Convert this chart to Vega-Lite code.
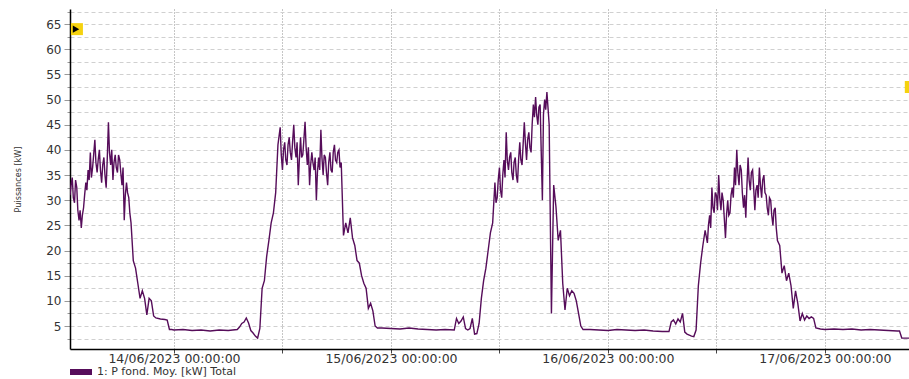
{
"$schema": "https://vega.github.io/schema/vega-lite/v6.json",
"width": 839, "height": 340,
"autosize": {"type": "none"},
"padding": {"left": 70, "top": 9, "right": 0, "bottom": 30},
"background": "white",
"config": {"view": {"stroke": null}, "font": "DejaVu Sans"},
"datasets": {
"series": [
{"time":"2023-06-13T12:30","power":31.0},{"time":"2023-06-13T12:37","power":33.0},{"time":"2023-06-13T12:45","power":34.5},{"time":"2023-06-13T12:52","power":30.5},{"time":"2023-06-13T13:00","power":29.5},{"time":"2023-06-13T13:07","power":34.0},{"time":"2023-06-13T13:15","power":32.5},{"time":"2023-06-13T13:22","power":28.0},{"time":"2023-06-13T13:30","power":26.0},{"time":"2023-06-13T13:37","power":28.0},{"time":"2023-06-13T13:45","power":24.5},{"time":"2023-06-13T13:52","power":27.0},{"time":"2023-06-13T14:00","power":28.5},{"time":"2023-06-13T14:07","power":31.0},{"time":"2023-06-13T14:15","power":33.5},{"time":"2023-06-13T14:22","power":32.0},{"time":"2023-06-13T14:30","power":36.0},{"time":"2023-06-13T14:37","power":34.0},{"time":"2023-06-13T14:45","power":39.5},{"time":"2023-06-13T14:52","power":34.5},{"time":"2023-06-13T15:00","power":36.5},{"time":"2023-06-13T15:07","power":39.0},{"time":"2023-06-13T15:15","power":42.0},{"time":"2023-06-13T15:22","power":37.5},{"time":"2023-06-13T15:30","power":35.5},{"time":"2023-06-13T15:37","power":38.0},{"time":"2023-06-13T15:45","power":40.0},{"time":"2023-06-13T15:52","power":36.0},{"time":"2023-06-13T16:00","power":33.5},{"time":"2023-06-13T16:07","power":37.0},{"time":"2023-06-13T16:15","power":38.5},{"time":"2023-06-13T16:22","power":35.0},{"time":"2023-06-13T16:30","power":32.5},{"time":"2023-06-13T16:37","power":38.0},{"time":"2023-06-13T16:45","power":45.5},{"time":"2023-06-13T16:52","power":39.5},{"time":"2023-06-13T17:00","power":37.0},{"time":"2023-06-13T17:07","power":40.0},{"time":"2023-06-13T17:15","power":34.0},{"time":"2023-06-13T17:22","power":37.5},{"time":"2023-06-13T17:30","power":39.0},{"time":"2023-06-13T17:37","power":36.5},{"time":"2023-06-13T17:45","power":35.5},{"time":"2023-06-13T17:52","power":39.0},{"time":"2023-06-13T18:00","power":38.0},{"time":"2023-06-13T18:07","power":35.5},{"time":"2023-06-13T18:15","power":33.0},{"time":"2023-06-13T18:22","power":36.5},{"time":"2023-06-13T18:30","power":26.0},{"time":"2023-06-13T18:37","power":31.0},{"time":"2023-06-13T18:45","power":33.5},{"time":"2023-06-13T18:52","power":31.5},{"time":"2023-06-13T19:00","power":30.5},{"time":"2023-06-13T19:07","power":27.5},{"time":"2023-06-13T19:15","power":25.5},{"time":"2023-06-13T19:30","power":18.0},{"time":"2023-06-13T19:45","power":16.5},{"time":"2023-06-13T20:00","power":13.5},{"time":"2023-06-13T20:15","power":10.5},{"time":"2023-06-13T20:30","power":12.0},{"time":"2023-06-13T20:45","power":10.5},{"time":"2023-06-13T21:00","power":7.2},{"time":"2023-06-13T21:15","power":10.5},{"time":"2023-06-13T21:30","power":10.0},{"time":"2023-06-13T21:45","power":7.0},{"time":"2023-06-13T22:00","power":6.6},{"time":"2023-06-13T22:30","power":6.4},{"time":"2023-06-13T23:00","power":6.3},{"time":"2023-06-13T23:15","power":6.2},{"time":"2023-06-13T23:30","power":4.3},{"time":"2023-06-13T23:45","power":4.3},
{"time":"2023-06-14T00:00","power":4.2},{"time":"2023-06-14T01:00","power":4.3},{"time":"2023-06-14T02:00","power":4.1},{"time":"2023-06-14T03:00","power":4.2},{"time":"2023-06-14T04:00","power":4.0},{"time":"2023-06-14T05:00","power":4.2},{"time":"2023-06-14T06:00","power":4.1},{"time":"2023-06-14T06:30","power":4.2},{"time":"2023-06-14T07:00","power":4.3},{"time":"2023-06-14T07:15","power":4.8},{"time":"2023-06-14T07:30","power":5.5},{"time":"2023-06-14T07:45","power":5.8},{"time":"2023-06-14T08:00","power":6.6},{"time":"2023-06-14T08:15","power":5.6},{"time":"2023-06-14T08:30","power":4.1},{"time":"2023-06-14T08:45","power":3.6},{"time":"2023-06-14T09:00","power":3.0},{"time":"2023-06-14T09:15","power":2.6},{"time":"2023-06-14T09:30","power":4.5},{"time":"2023-06-14T09:45","power":12.5},{"time":"2023-06-14T10:00","power":14.0},{"time":"2023-06-14T10:15","power":18.8},{"time":"2023-06-14T10:30","power":22.0},{"time":"2023-06-14T10:45","power":25.5},{"time":"2023-06-14T11:00","power":27.5},{"time":"2023-06-14T11:15","power":31.5},{"time":"2023-06-14T11:30","power":41.0},{"time":"2023-06-14T11:45","power":44.5},{"time":"2023-06-14T11:52","power":39.0},{"time":"2023-06-14T12:00","power":36.0},{"time":"2023-06-14T12:07","power":40.0},{"time":"2023-06-14T12:15","power":41.5},{"time":"2023-06-14T12:22","power":38.0},{"time":"2023-06-14T12:30","power":37.0},{"time":"2023-06-14T12:37","power":41.0},{"time":"2023-06-14T12:45","power":42.5},{"time":"2023-06-14T12:52","power":39.5},{"time":"2023-06-14T13:00","power":38.0},{"time":"2023-06-14T13:07","power":41.5},{"time":"2023-06-14T13:15","power":45.0},{"time":"2023-06-14T13:22","power":40.5},{"time":"2023-06-14T13:30","power":38.5},{"time":"2023-06-14T13:37","power":41.5},{"time":"2023-06-14T13:45","power":33.0},{"time":"2023-06-14T13:52","power":38.0},{"time":"2023-06-14T14:00","power":42.5},{"time":"2023-06-14T14:07","power":38.5},{"time":"2023-06-14T14:15","power":39.0},{"time":"2023-06-14T14:22","power":42.0},{"time":"2023-06-14T14:30","power":45.6},{"time":"2023-06-14T14:37","power":40.5},{"time":"2023-06-14T14:45","power":37.0},{"time":"2023-06-14T14:52","power":40.5},{"time":"2023-06-14T15:00","power":33.0},{"time":"2023-06-14T15:07","power":37.0},{"time":"2023-06-14T15:15","power":39.5},{"time":"2023-06-14T15:22","power":37.5},{"time":"2023-06-14T15:30","power":36.0},{"time":"2023-06-14T15:37","power":38.5},{"time":"2023-06-14T15:45","power":30.0},{"time":"2023-06-14T15:52","power":35.5},{"time":"2023-06-14T16:00","power":38.5},{"time":"2023-06-14T16:07","power":36.0},{"time":"2023-06-14T16:15","power":44.0},{"time":"2023-06-14T16:22","power":38.5},{"time":"2023-06-14T16:30","power":35.0},{"time":"2023-06-14T16:37","power":39.0},{"time":"2023-06-14T16:45","power":38.5},{"time":"2023-06-14T16:52","power":35.5},{"time":"2023-06-14T17:00","power":33.0},{"time":"2023-06-14T17:07","power":37.5},{"time":"2023-06-14T17:15","power":39.5},{"time":"2023-06-14T17:22","power":36.0},{"time":"2023-06-14T17:30","power":35.5},{"time":"2023-06-14T17:37","power":39.5},{"time":"2023-06-14T17:45","power":41.0},{"time":"2023-06-14T17:52","power":38.0},{"time":"2023-06-14T18:00","power":37.5},{"time":"2023-06-14T18:07","power":39.5},{"time":"2023-06-14T18:15","power":40.0},{"time":"2023-06-14T18:22","power":36.5},{"time":"2023-06-14T18:30","power":37.5},{"time":"2023-06-14T18:45","power":23.0},{"time":"2023-06-14T19:00","power":25.5},{"time":"2023-06-14T19:15","power":23.5},{"time":"2023-06-14T19:30","power":26.5},{"time":"2023-06-14T19:45","power":22.5},{"time":"2023-06-14T20:00","power":21.0},{"time":"2023-06-14T20:15","power":18.0},{"time":"2023-06-14T20:30","power":17.5},{"time":"2023-06-14T20:45","power":15.0},{"time":"2023-06-14T21:00","power":13.5},{"time":"2023-06-14T21:15","power":12.5},{"time":"2023-06-14T21:30","power":8.5},{"time":"2023-06-14T21:45","power":9.5},{"time":"2023-06-14T22:00","power":8.0},{"time":"2023-06-14T22:15","power":5.0},{"time":"2023-06-14T22:30","power":4.6},{"time":"2023-06-14T23:00","power":4.6},
{"time":"2023-06-15T00:00","power":4.5},{"time":"2023-06-15T01:00","power":4.4},{"time":"2023-06-15T02:00","power":4.6},{"time":"2023-06-15T03:00","power":4.4},{"time":"2023-06-15T04:00","power":4.3},{"time":"2023-06-15T05:00","power":4.2},{"time":"2023-06-15T06:00","power":4.3},{"time":"2023-06-15T07:00","power":4.2},{"time":"2023-06-15T07:15","power":6.5},{"time":"2023-06-15T07:30","power":5.5},{"time":"2023-06-15T07:45","power":6.0},{"time":"2023-06-15T08:00","power":6.8},{"time":"2023-06-15T08:15","power":4.5},{"time":"2023-06-15T08:30","power":4.2},{"time":"2023-06-15T08:45","power":4.5},{"time":"2023-06-15T09:00","power":6.5},{"time":"2023-06-15T09:15","power":3.4},{"time":"2023-06-15T09:30","power":3.5},{"time":"2023-06-15T09:45","power":5.5},{"time":"2023-06-15T10:00","power":10.5},{"time":"2023-06-15T10:15","power":14.0},{"time":"2023-06-15T10:30","power":16.5},{"time":"2023-06-15T10:45","power":20.0},{"time":"2023-06-15T11:00","power":23.5},{"time":"2023-06-15T11:15","power":25.5},{"time":"2023-06-15T11:30","power":33.5},{"time":"2023-06-15T11:37","power":29.5},{"time":"2023-06-15T11:45","power":30.5},{"time":"2023-06-15T11:52","power":34.0},{"time":"2023-06-15T12:00","power":36.5},{"time":"2023-06-15T12:07","power":32.0},{"time":"2023-06-15T12:15","power":30.5},{"time":"2023-06-15T12:22","power":35.0},{"time":"2023-06-15T12:30","power":38.0},{"time":"2023-06-15T12:37","power":34.5},{"time":"2023-06-15T12:45","power":43.5},{"time":"2023-06-15T12:52","power":38.0},{"time":"2023-06-15T13:00","power":36.0},{"time":"2023-06-15T13:07","power":38.5},{"time":"2023-06-15T13:15","power":39.5},{"time":"2023-06-15T13:22","power":35.5},{"time":"2023-06-15T13:30","power":34.0},{"time":"2023-06-15T13:37","power":37.5},{"time":"2023-06-15T13:45","power":38.5},{"time":"2023-06-15T13:52","power":35.0},{"time":"2023-06-15T14:00","power":33.5},{"time":"2023-06-15T14:07","power":38.0},{"time":"2023-06-15T14:15","power":41.5},{"time":"2023-06-15T14:22","power":38.0},{"time":"2023-06-15T14:30","power":37.0},{"time":"2023-06-15T14:37","power":41.0},{"time":"2023-06-15T14:45","power":45.5},{"time":"2023-06-15T14:52","power":41.5},{"time":"2023-06-15T15:00","power":38.0},{"time":"2023-06-15T15:07","power":42.0},{"time":"2023-06-15T15:15","power":43.5},{"time":"2023-06-15T15:22","power":40.5},{"time":"2023-06-15T15:30","power":39.5},{"time":"2023-06-15T15:37","power":45.0},{"time":"2023-06-15T15:45","power":49.0},{"time":"2023-06-15T15:52","power":46.5},{"time":"2023-06-15T16:00","power":50.5},{"time":"2023-06-15T16:07","power":47.0},{"time":"2023-06-15T16:15","power":45.0},{"time":"2023-06-15T16:22","power":48.5},{"time":"2023-06-15T16:30","power":49.0},{"time":"2023-06-15T16:37","power":40.0},{"time":"2023-06-15T16:45","power":30.0},{"time":"2023-06-15T16:52","power":47.0},{"time":"2023-06-15T17:00","power":50.0},{"time":"2023-06-15T17:07","power":48.0},{"time":"2023-06-15T17:15","power":51.5},{"time":"2023-06-15T17:22","power":48.5},{"time":"2023-06-15T17:30","power":45.0},{"time":"2023-06-15T17:45","power":7.5},{"time":"2023-06-15T18:00","power":33.0},{"time":"2023-06-15T18:15","power":28.7},{"time":"2023-06-15T18:30","power":22.0},{"time":"2023-06-15T18:45","power":24.0},{"time":"2023-06-15T19:00","power":13.5},{"time":"2023-06-15T19:15","power":8.2},{"time":"2023-06-15T19:30","power":12.5},{"time":"2023-06-15T19:45","power":11.0},{"time":"2023-06-15T20:00","power":12.0},{"time":"2023-06-15T20:15","power":11.5},{"time":"2023-06-15T20:30","power":10.0},{"time":"2023-06-15T20:45","power":7.5},{"time":"2023-06-15T21:00","power":5.0},{"time":"2023-06-15T21:15","power":4.3},{"time":"2023-06-15T22:00","power":4.3},{"time":"2023-06-15T23:00","power":4.2},
{"time":"2023-06-16T00:00","power":4.1},{"time":"2023-06-16T01:00","power":4.3},{"time":"2023-06-16T02:00","power":4.2},{"time":"2023-06-16T03:00","power":4.1},{"time":"2023-06-16T04:00","power":4.2},{"time":"2023-06-16T05:00","power":4.0},{"time":"2023-06-16T06:00","power":3.9},{"time":"2023-06-16T06:30","power":3.9},{"time":"2023-06-16T06:45","power":3.9},{"time":"2023-06-16T07:00","power":5.8},{"time":"2023-06-16T07:15","power":6.2},{"time":"2023-06-16T07:30","power":5.4},{"time":"2023-06-16T07:45","power":6.4},{"time":"2023-06-16T08:00","power":5.8},{"time":"2023-06-16T08:15","power":7.5},{"time":"2023-06-16T08:30","power":3.8},{"time":"2023-06-16T08:45","power":3.4},{"time":"2023-06-16T09:00","power":3.2},{"time":"2023-06-16T09:15","power":3.0},{"time":"2023-06-16T09:30","power":2.9},{"time":"2023-06-16T09:45","power":4.2},{"time":"2023-06-16T10:00","power":13.0},{"time":"2023-06-16T10:15","power":17.5},{"time":"2023-06-16T10:30","power":21.0},{"time":"2023-06-16T10:45","power":24.0},{"time":"2023-06-16T11:00","power":21.5},{"time":"2023-06-16T11:07","power":25.0},{"time":"2023-06-16T11:15","power":27.0},{"time":"2023-06-16T11:22","power":24.5},{"time":"2023-06-16T11:30","power":32.5},{"time":"2023-06-16T11:37","power":28.5},{"time":"2023-06-16T11:45","power":27.5},{"time":"2023-06-16T11:52","power":31.5},{"time":"2023-06-16T12:00","power":31.0},{"time":"2023-06-16T12:07","power":28.0},{"time":"2023-06-16T12:15","power":35.0},{"time":"2023-06-16T12:22","power":30.5},{"time":"2023-06-16T12:30","power":28.0},{"time":"2023-06-16T12:37","power":31.5},{"time":"2023-06-16T12:45","power":30.0},{"time":"2023-06-16T12:52","power":26.5},{"time":"2023-06-16T13:00","power":22.5},{"time":"2023-06-16T13:07","power":27.0},{"time":"2023-06-16T13:15","power":30.0},{"time":"2023-06-16T13:22","power":27.0},{"time":"2023-06-16T13:30","power":27.5},{"time":"2023-06-16T13:37","power":31.0},{"time":"2023-06-16T13:45","power":32.5},{"time":"2023-06-16T13:52","power":30.5},{"time":"2023-06-16T14:00","power":36.5},{"time":"2023-06-16T14:07","power":33.0},{"time":"2023-06-16T14:15","power":40.0},{"time":"2023-06-16T14:22","power":35.5},{"time":"2023-06-16T14:30","power":33.0},{"time":"2023-06-16T14:37","power":37.0},{"time":"2023-06-16T14:45","power":36.0},{"time":"2023-06-16T14:52","power":31.5},{"time":"2023-06-16T15:00","power":28.5},{"time":"2023-06-16T15:07","power":31.0},{"time":"2023-06-16T15:15","power":26.5},{"time":"2023-06-16T15:22","power":32.5},{"time":"2023-06-16T15:30","power":38.5},{"time":"2023-06-16T15:37","power":34.0},{"time":"2023-06-16T15:45","power":32.0},{"time":"2023-06-16T15:52","power":35.5},{"time":"2023-06-16T16:00","power":36.0},{"time":"2023-06-16T16:07","power":32.5},{"time":"2023-06-16T16:15","power":28.0},{"time":"2023-06-16T16:22","power":32.0},{"time":"2023-06-16T16:30","power":33.0},{"time":"2023-06-16T16:37","power":30.5},{"time":"2023-06-16T16:45","power":36.5},{"time":"2023-06-16T16:52","power":33.0},{"time":"2023-06-16T17:00","power":30.5},{"time":"2023-06-16T17:07","power":34.0},{"time":"2023-06-16T17:15","power":35.0},{"time":"2023-06-16T17:22","power":31.5},{"time":"2023-06-16T17:30","power":31.0},{"time":"2023-06-16T17:37","power":28.5},{"time":"2023-06-16T17:45","power":27.0},{"time":"2023-06-16T17:52","power":30.5},{"time":"2023-06-16T18:00","power":30.0},{"time":"2023-06-16T18:07","power":27.0},{"time":"2023-06-16T18:15","power":25.0},{"time":"2023-06-16T18:22","power":28.0},{"time":"2023-06-16T18:30","power":28.5},{"time":"2023-06-16T18:37","power":24.5},{"time":"2023-06-16T18:45","power":22.0},{"time":"2023-06-16T19:00","power":21.0},{"time":"2023-06-16T19:15","power":15.5},{"time":"2023-06-16T19:30","power":17.0},{"time":"2023-06-16T19:45","power":14.0},{"time":"2023-06-16T20:00","power":15.5},{"time":"2023-06-16T20:15","power":13.0},{"time":"2023-06-16T20:30","power":8.5},{"time":"2023-06-16T20:45","power":12.0},{"time":"2023-06-16T21:00","power":9.5},{"time":"2023-06-16T21:15","power":6.0},{"time":"2023-06-16T21:30","power":7.5},{"time":"2023-06-16T21:45","power":6.2},{"time":"2023-06-16T22:00","power":7.0},{"time":"2023-06-16T22:15","power":6.5},{"time":"2023-06-16T22:30","power":6.8},{"time":"2023-06-16T22:45","power":6.5},{"time":"2023-06-16T23:00","power":4.6},{"time":"2023-06-16T23:30","power":4.4},
{"time":"2023-06-17T00:00","power":4.3},{"time":"2023-06-17T01:00","power":4.4},{"time":"2023-06-17T02:00","power":4.3},{"time":"2023-06-17T03:00","power":4.4},{"time":"2023-06-17T04:00","power":4.2},{"time":"2023-06-17T05:00","power":4.3},{"time":"2023-06-17T06:00","power":4.2},{"time":"2023-06-17T07:00","power":4.1},{"time":"2023-06-17T08:00","power":4.0},{"time":"2023-06-17T08:15","power":4.0},{"time":"2023-06-17T08:30","power":2.6},{"time":"2023-06-17T09:00","power":2.6},{"time":"2023-06-17T09:18","power":2.6}
],
"flags": [{"time":"2023-06-13T13:16","power":64.0},{"time":"2023-06-17T09:30","power":52.5}],
"arrow": [{"time":"2023-06-13T13:10","power":64.0}]
},
"layer": [
{
"data": {"name": "series"},
"mark": {"type": "line", "strokeWidth": 1.4, "clip": true},
"encoding": {
"x": {"field": "time", "type": "temporal", "title": null,
"scale": {"domain": [{"year": 2023, "month": 6, "date": 13, "hours": 12, "minutes": 30}, {"year": 2023, "month": 6, "date": 17, "hours": 9, "minutes": 18}]},
"axis": {
"values": [{"year": 2023, "month": 6, "date": 14, "hours": 0}, {"year": 2023, "month": 6, "date": 14, "hours": 12}, {"year": 2023, "month": 6, "date": 15, "hours": 0}, {"year": 2023, "month": 6, "date": 15, "hours": 12}, {"year": 2023, "month": 6, "date": 16, "hours": 0}, {"year": 2023, "month": 6, "date": 16, "hours": 12}, {"year": 2023, "month": 6, "date": 17, "hours": 0}],
"tickCount": 50,
"labelExpr": "hours(datum.value) == 0 ? timeFormat(datum.value, '%d/%m/%Y %H:%M:%S') : ''",
"grid": true, "gridDash": [1, 2], "gridColor": "#8c8c8c", "gridWidth": 1,
"domainColor": "#000000", "domainWidth": 1.5, "tickColor": "#444444", "tickSize": 4,
"labelFont": "DejaVu Sans", "labelFontSize": 12.5, "labelColor": "#333333", "labelPadding": -1,
"labelFlush": false, "labelOverlap": false
}
},
"y": {"field": "power", "type": "quantitative", "title": "Puissances [kW]",
"scale": {"domain": [0.43, 68], "nice": false, "zero": false},
"axis": {
"values": [2.5, 5, 7.5, 10, 12.5, 15, 17.5, 20, 22.5, 25, 27.5, 30, 32.5, 35, 37.5, 40, 42.5, 45, 47.5, 50, 52.5, 55, 57.5, 60, 62.5, 65, 67.5],
"tickCount": 60,
"labelExpr": "datum.value % 5 == 0 ? datum.label : ''",
"tickSize": {"condition": {"test": "datum.value % 5 == 0", "value": 6}, "value": 3},
"tickColor": "#999999",
"grid": true, "gridDash": [4, 3], "gridColor": "#d0d0d0", "gridWidth": 1,
"domainColor": "#000000", "domainWidth": 1.5,
"labelFont": "DejaVu Sans", "labelFontSize": 12, "labelColor": "#333333", "labelPadding": 3, "labelOverlap": false,
"titleFont": "DejaVu Sans Condensed, Liberation Sans", "titleFontSize": 9, "titleFontWeight": "normal", "titleColor": "#333333",
"titleX": -53, "titleY": 170, "titleAngle": -90, "titleBaseline": "middle", "titleAlign": "center"
}
},
"color": {"datum": "1: P fond. Moy. [kW] Total", "type": "nominal",
"scale": {"range": ["#560d5a"]},
"legend": {"orient": "none", "legendX": -3, "legendY": 349, "title": null, "padding": 0,
"symbolType": "stroke", "symbolSize": 484, "symbolStrokeWidth": 6, "labelOffset": 2, "labelLimit": 400,
"labelFont": "DejaVu Sans", "labelFontSize": 11, "labelColor": "#333333"}
}
}
},
{
"data": {"name": "flags"},
"mark": {"type": "point", "shape": "square", "size": 144, "filled": true, "opacity": 1, "color": "#f5d20f", "clip": false},
"encoding": {
"x": {"field": "time", "type": "temporal", "title": null},
"y": {"field": "power", "type": "quantitative", "title": "Puissances [kW]"}
}
},
{
"data": {"name": "arrow"},
"mark": {"type": "point", "shape": "triangle-right", "size": 55, "filled": true, "opacity": 1, "color": "#000000", "clip": false},
"encoding": {
"x": {"field": "time", "type": "temporal", "title": null},
"y": {"field": "power", "type": "quantitative", "title": "Puissances [kW]"}
}
}
]
}
